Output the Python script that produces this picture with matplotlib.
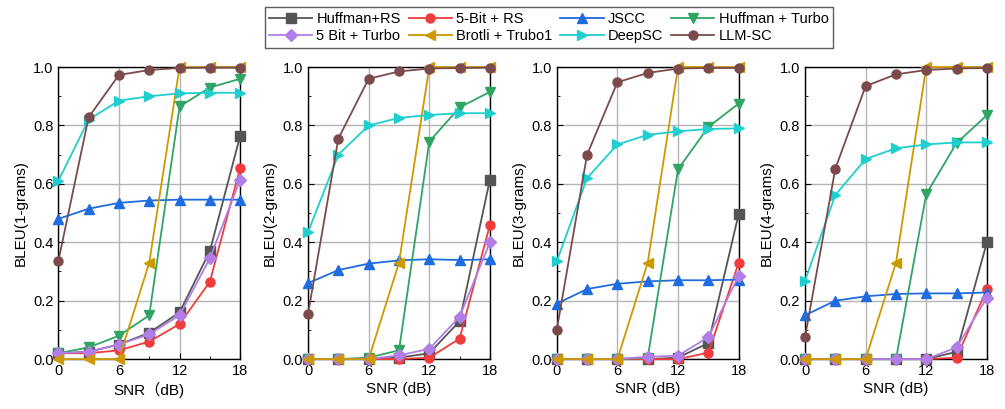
import matplotlib.pyplot as plt
import numpy as np

plt.rcParams['font.family'] = ['Liberation Sans', 'Noto Sans CJK SC', 'DejaVu Sans']

snr = [0, 3, 6, 9, 12, 15, 18]
names = ['Huffman+RS', '5-Bit + RS', 'JSCC', 'Huffman + Turbo',
         '5 Bit + Turbo', 'Brotli + Trubo1', 'DeepSC', 'LLM-SC']
colors = ['#555555', '#f03c3c', '#1f6be0', '#2fa463',
          '#b07ee6', '#cc9900', '#1fcfcf', '#7b4b4b']
markers = ['s', 'o', '^', 'v', 'D', '<', '>', 'o']

# BLEU 1-grams
bleu1 = [
    [0.02, 0.025, 0.05, 0.09, 0.16, 0.37, 0.765],
    [0.02, 0.02, 0.03, 0.06, 0.12, 0.265, 0.655],
    [0.48, 0.515, 0.535, 0.543, 0.546, 0.546, 0.546],
    [0.02, 0.04, 0.08, 0.15, 0.865, 0.93, 0.96],
    [0.02, 0.025, 0.05, 0.085, 0.15, 0.345, 0.615],
    [0.0, 0.0, 0.0, 0.33, 1.0, 1.0, 1.0],
    [0.61, 0.82, 0.885, 0.90, 0.91, 0.912, 0.912],
    [0.335, 0.828, 0.973, 0.99, 0.997, 0.998, 0.998],
]
# BLEU 2-grams
bleu2 = [
    [0.0, 0.0, 0.0, 0.005, 0.02, 0.13, 0.615],
    [0.0, 0.0, 0.0, 0.0, 0.005, 0.07, 0.46],
    [0.26, 0.305, 0.327, 0.338, 0.342, 0.339, 0.342],
    [0.0, 0.0, 0.005, 0.03, 0.745, 0.862, 0.915],
    [0.0, 0.0, 0.0, 0.013, 0.035, 0.145, 0.40],
    [0.0, 0.0, 0.0, 0.33, 1.0, 1.0, 1.0],
    [0.435, 0.70, 0.80, 0.826, 0.836, 0.842, 0.842],
    [0.155, 0.755, 0.96, 0.985, 0.995, 0.997, 0.998],
]
# BLEU 3-grams
bleu3 = [
    [0.0, 0.0, 0.0, 0.0, 0.005, 0.055, 0.497],
    [0.0, 0.0, 0.0, 0.0, 0.0, 0.022, 0.33],
    [0.19, 0.24, 0.258, 0.266, 0.27, 0.27, 0.272],
    [0.0, 0.0, 0.0, 0.005, 0.65, 0.795, 0.875],
    [0.0, 0.0, 0.0, 0.008, 0.012, 0.075, 0.285],
    [0.0, 0.0, 0.0, 0.33, 1.0, 1.0, 1.0],
    [0.335, 0.62, 0.735, 0.768, 0.78, 0.788, 0.79],
    [0.10, 0.70, 0.948, 0.98, 0.995, 0.997, 0.997],
]
# BLEU 4-grams
bleu4 = [
    [0.0, 0.0, 0.0, 0.0, 0.0, 0.025, 0.40],
    [0.0, 0.0, 0.0, 0.0, 0.0, 0.005, 0.24],
    [0.15, 0.20, 0.215, 0.223, 0.225, 0.225, 0.228],
    [0.0, 0.0, 0.0, 0.0, 0.565, 0.74, 0.835],
    [0.0, 0.0, 0.0, 0.0, 0.0, 0.04, 0.21],
    [0.0, 0.0, 0.0, 0.33, 1.0, 1.0, 1.0],
    [0.268, 0.562, 0.685, 0.722, 0.735, 0.742, 0.742],
    [0.075, 0.652, 0.935, 0.975, 0.99, 0.995, 0.997],
]

panels = [bleu1, bleu2, bleu3, bleu4]
ylabels = ['BLEU(1-grams)', 'BLEU(2-grams)', 'BLEU(3-grams)', 'BLEU(4-grams)']
xlabels = ['SNR（dB)', 'SNR (dB)', 'SNR (dB)', 'SNR (dB)']
lefts = [0.058, 0.3065, 0.554, 0.801]

fig = plt.figure(figsize=(10.05, 4.09), dpi=100)
handles = []
for k, data in enumerate(panels):
    ax = fig.add_axes([lefts[k], 0.122, 0.181, 0.714])
    for i in range(len(names)):
        h, = ax.plot(snr, data[i], color=colors[i], marker=markers[i],
                     markersize=6.5, linewidth=1.3, clip_on=False, zorder=3 + i)
        if k == 0:
            handles.append(h)
    ax.set_xlim(0, 18)
    ax.set_ylim(0, 1.0)
    ax.set_xticks([0, 6, 12, 18])
    ax.set_xticks([3, 9, 15], minor=True)
    ax.set_yticks(np.arange(0, 1.01, 0.2))
    ax.set_yticks(np.arange(0.1, 1.0, 0.2), minor=True)
    ax.yaxis.set_major_formatter(plt.FormatStrFormatter('%.1f'))
    ax.grid(True, which='major', color='#b4b4b4', linewidth=1.0)
    ax.tick_params(which='both', direction='in', labelsize=10.5, top=False, right=False)
    ax.tick_params(which='major', length=4)
    ax.tick_params(which='minor', length=2.5)
    for s in ax.spines.values():
        s.set_linewidth(1.0)
    ax.set_ylabel(ylabels[k], fontsize=11, labelpad=4)
    ax.set_xlabel(xlabels[k], fontsize=11, labelpad=3)

# legend is filled row by row in the original
order = [0, 4, 1, 5, 2, 6, 3, 7]
fig.legend([handles[j] for j in order], [names[j] for j in order],
           loc='upper center', bbox_to_anchor=(0.546, 1.0),
           ncol=4, fontsize=10.5, frameon=True, fancybox=False, edgecolor='#333333',
           handlelength=2.95, columnspacing=0.55, handletextpad=0.3,
           borderpad=0.3, labelspacing=0.25)

fig.savefig('out.png', dpi=100)
